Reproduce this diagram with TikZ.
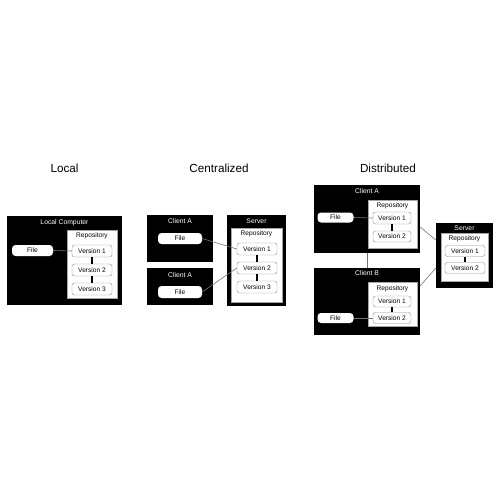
\documentclass[tikz,border=0pt]{standalone}
\usepackage{fontspec}
\setmainfont{Liberation Sans}
\tikzset{
  blackbox/.style={fill=black,draw=none,inner sep=0pt},
  repo/.style={fill=white,draw=black!35,line width=0.4pt,inner sep=0pt},
  ver/.style={fill=white,draw=black!45,line width=0.4pt,rounded corners=2.5pt,inner sep=0pt,font=\fontsize{6.6}{7}\selectfont},
  filebox/.style={fill=white,draw=none,rounded corners=3.5pt,inner sep=0pt,font=\fontsize{6.6}{7}\selectfont},
  wlabel/.style={text=white,inner sep=0pt,font=\fontsize{6.8}{7}\selectfont},
  blabel/.style={text=black,inner sep=0pt,font=\fontsize{6.6}{7}\selectfont},
  title/.style={inner sep=0pt,font=\fontsize{11.7}{13}\selectfont},
  conn/.style={draw=black!55,line width=0.6pt},
  vlink/.style={draw=black,line width=1.4pt}
}
\begin{document}
\begin{tikzpicture}[x=1pt,y=-1pt]
\useasboundingbox[fill=white] (0,0) rectangle (500,500);

% ---------- Local ----------
\node[title] (tl) at (64.5,168) {Local};
\node[blackbox,minimum width=115pt,minimum height=89pt] (lc) at (64.5,260.5) {};
\node[wlabel] (lcl) at (64.5,222.5) {Local Computer};
\node[repo,minimum width=50pt,minimum height=68pt] (lr) at (92,264) {};
\node[blabel] (lrl) at (92,236) {Repository};
\node[ver,minimum width=40pt,minimum height=12pt] (lv1) at (92,251) {Version 1};
\node[ver,minimum width=40pt,minimum height=12pt] (lv2) at (92,270) {Version 2};
\node[ver,minimum width=40pt,minimum height=12pt] (lv3) at (92,289) {Version 3};
\node[filebox,minimum width=41pt,minimum height=11pt] (lf) at (32.5,250.5) {File};
\draw[conn] (lf.east) -- (lv1.west);
\draw[vlink] (lv1.south) -- (lv2.north);
\draw[vlink] (lv2.south) -- (lv3.north);

% ---------- Centralized ----------
\node[title] (tc) at (219,168) {Centralized};
\node[blackbox,minimum width=66pt,minimum height=47pt] (ca1) at (180,238.5) {};
\node[wlabel] (ca1l) at (180,221) {Client A};
\node[filebox,minimum width=44pt,minimum height=11pt] (cf1) at (180,238.5) {File};
\node[blackbox,minimum width=66pt,minimum height=37pt] (ca2) at (180,286.5) {};
\node[wlabel] (ca2l) at (180,275) {Client A};
\node[filebox,minimum width=44pt,minimum height=12pt] (cf2) at (180,292) {File};
\node[blackbox,minimum width=59pt,minimum height=91pt] (cs) at (256.5,260.5) {};
\node[wlabel] (csl) at (256.5,221) {Server};
\node[repo,minimum width=51pt,minimum height=74pt] (cr) at (256.5,265) {};
\node[blabel] (crl) at (256.5,233.5) {Repository};
\node[ver,minimum width=40pt,minimum height=12pt] (cv1) at (257,249) {Version 1};
\node[ver,minimum width=40pt,minimum height=12pt] (cv2) at (257,268) {Version 2};
\node[ver,minimum width=40pt,minimum height=12pt] (cv3) at (257,287) {Version 3};
\draw[vlink] (cv1.south) -- (cv2.north);
\draw[vlink] (cv2.south) -- (cv3.north);
\draw[conn] (cf1.east) -- (cv1.west);
\draw[conn] (cf2.east) -- (cv2.west);

% ---------- Distributed ----------
\node[title] (td) at (388,168) {Distributed};
% Client A
\node[blackbox,minimum width=106pt,minimum height=68pt] (da) at (367,219) {};
\node[wlabel] (dal) at (367,191) {Client A};
\node[repo,minimum width=49pt,minimum height=48pt] (dra) at (392.5,224) {};
\node[blabel] (dral) at (392.5,206) {Repository};
\node[ver,minimum width=38pt,minimum height=12pt] (da1) at (392,218) {Version 1};
\node[ver,minimum width=38pt,minimum height=11pt] (da2) at (392,236.5) {Version 2};
\node[filebox,minimum width=36pt,minimum height=10pt] (dfa) at (335.5,217.5) {File};
\draw[vlink] (da1.south) -- (da2.north);
\draw[conn] (dfa.east) -- (da1.west);
% Client B
\node[blackbox,minimum width=106pt,minimum height=67pt] (db) at (367,301.5) {};
\node[wlabel] (dbl) at (367,273) {Client B};
\node[repo,minimum width=49pt,minimum height=44pt] (drb) at (392.5,304) {};
\node[blabel] (drbl) at (392.5,289) {Repository};
\node[ver,minimum width=38pt,minimum height=11pt] (db1) at (392,301.5) {Version 1};
\node[ver,minimum width=38pt,minimum height=11pt] (db2) at (392,318) {Version 2};
\node[filebox,minimum width=36pt,minimum height=10pt] (dfb) at (335.5,318) {File};
\draw[vlink] (db1.south) -- (db2.north);
\draw[conn] (dfb.east) -- (db2.west);
% Server
\node[blackbox,minimum width=57pt,minimum height=65pt] (ds) at (464.5,255.5) {};
\node[wlabel] (dsl) at (464.5,228) {Server};
\node[repo,minimum width=47pt,minimum height=48pt] (drs) at (464.5,257) {};
\node[blabel] (drsl) at (464.5,239) {Repository};
\node[ver,minimum width=40pt,minimum height=11pt] (ds1) at (465,251) {Version 1};
\node[ver,minimum width=40pt,minimum height=11pt] (ds2) at (465,268) {Version 2};
\draw[vlink] (ds1.south) -- (ds2.north);
% connectors between machines
\draw[conn] (da.south) -- (db.north);
\draw[conn] ([yshift=-8pt]da.east) -- ([yshift=15.5pt]ds.west);
\draw[conn] ([yshift=15.5pt]db.east) -- ([yshift=-12.5pt]ds.west);
\end{tikzpicture}
\end{document}
